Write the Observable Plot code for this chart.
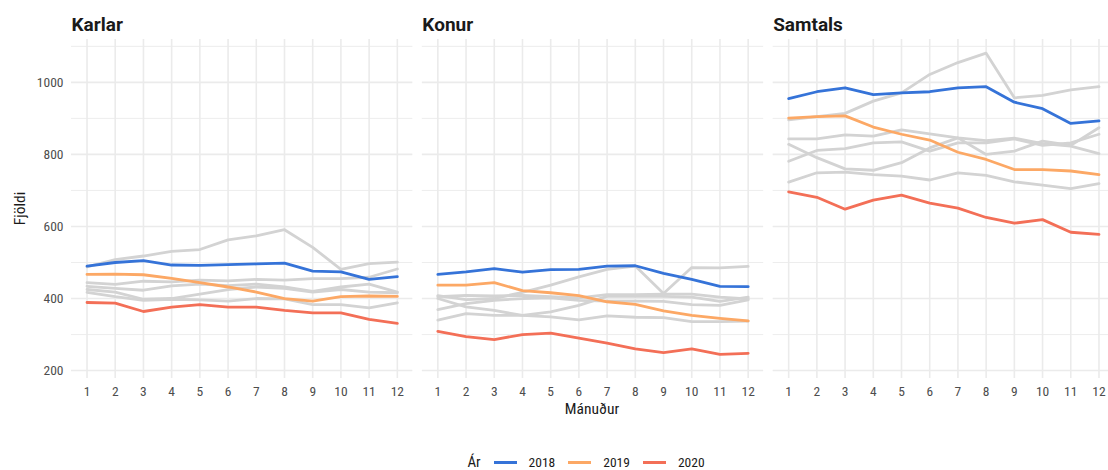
<!DOCTYPE html>
<html>
<head>
<meta charset="utf-8">
<script src="https://cdn.jsdelivr.net/npm/d3@7"></script>
<script src="https://cdn.jsdelivr.net/npm/@observablehq/plot@0.6"></script>
<style>
  html, body { margin: 0; padding: 0; background: #fff; overflow: hidden; }
  body { width: 1108px; height: 470px; position: relative;
         font-family: "Roboto Condensed", "Liberation Sans Narrow", "DejaVu Sans Condensed", Roboto, sans-serif; }
  #chart { position: absolute; left: 0; top: 0; width: 1114px; }
  #chart svg { max-width: none !important; }
  #legend { position: absolute; top: 448px; left: 71px; width: 1043px; height: 28px;
            display: flex; justify-content: center; align-items: center; color: #1a1a1a; }
  #legend .title { font-size: 15px; margin-right: 13px; }
  #legend .sw { display: inline-block; width: 23px; height: 3px; margin-right: 12px; }
  #legend .lab { font-size: 13.5px; margin-right: 13px; }
</style>
</head>
<body>
<div id="chart"></div>
<div id="legend"></div>
<script>
// ---------- data ----------
const months = [1, 2, 3, 4, 5, 6, 7, 8, 9, 10, 11, 12];
const panels = ["Karlar", "Konur", "Samtals"];
const greyYears = ["2013", "2014", "2015", "2016", "2017"];
const highlightYears = ["2018", "2019", "2020"];
const highlightColors = ["#3573d8", "#fca865", "#f36f57"];
const yTicks = [200, 400, 600, 800, 1000];
const yMinor = [300, 500, 700, 900, 1100];

// Karlar (men) – one list per year, months 1..12
const karlarGrey = [
  [488, 508, 518, 531, 536, 563, 574, 591, 542, 481, 497, 501],
  [444, 439, 448, 446, 451, 449, 453, 451, 455, 455, 459, 482],
  [434, 428, 423, 435, 440, 436, 440, 432, 420, 432, 440, 418],
  [425, 418, 398, 400, 412, 425, 432, 428, 418, 425, 418, 416],
  [417, 405, 395, 398, 396, 393, 400, 399, 383, 383, 374, 388]
];
const karlar2018 = [490, 500, 505, 493, 492, 494, 496, 498, 476, 474, 453, 461];
const karlar2019 = [467, 468, 466, 456, 444, 432, 418, 400, 393, 405, 407, 406];
const karlar2020 = [389, 387, 364, 376, 383, 376, 376, 367, 360, 360, 342, 331];

// Konur (women)
const konurGrey = [
  [408, 397, 400, 417, 437, 460, 481, 490, 414, 486, 485, 489],
  [405, 409, 407, 409, 405, 402, 411, 411, 412, 412, 404, 399],
  [400, 377, 367, 353, 363, 381, 406, 406, 406, 404, 392, 404],
  [369, 386, 395, 400, 402, 395, 393, 393, 392, 383, 381, 396],
  [340, 358, 353, 353, 349, 341, 352, 348, 347, 336, 336, 337]
];
const konur2018 = [467, 474, 483, 473, 480, 481, 490, 491, 470, 453, 434, 433];
const konur2019 = [437, 437, 444, 422, 416, 408, 391, 384, 366, 353, 345, 338];
const konur2020 = [309, 294, 286, 300, 304, 290, 276, 260, 250, 260, 245, 248];

// Samtals (total)
const samtalsGrey = [
  [896, 905, 914, 948, 971, 1022, 1055, 1081, 957, 964, 979, 988],
  [843, 843, 854, 851, 868, 857, 846, 838, 845, 830, 823, 802],
  [828, 791, 760, 756, 777, 818, 846, 800, 809, 837, 825, 874],
  [781, 811, 816, 832, 835, 809, 832, 832, 843, 825, 832, 856],
  [723, 749, 751, 744, 740, 729, 749, 742, 724, 715, 705, 719]
];
const samtals2018 = [955, 974, 985, 966, 971, 974, 985, 988, 945, 927, 886, 893];
const samtals2019 = [901, 905, 907, 876, 856, 840, 806, 786, 758, 758, 754, 744];
const samtals2020 = [696, 681, 648, 673, 687, 665, 651, 625, 609, 619, 584, 578];

// ---------- build tables ----------
const greyRows = [];
const hiRows = [];
const greyByPanel = [karlarGrey, konurGrey, samtalsGrey];
const hiByPanel = [
  [karlar2018, karlar2019, karlar2020],
  [konur2018, konur2019, konur2020],
  [samtals2018, samtals2019, samtals2020]
];
panels.forEach((p, pi) => {
  greyByPanel[pi].forEach((vals, yi) => {
    vals.forEach((v, mi) => greyRows.push({panel: p, year: greyYears[yi], month: months[mi], value: v}));
  });
  hiByPanel[pi].forEach((vals, yi) => {
    vals.forEach((v, mi) => hiRows.push({panel: p, year: highlightYears[yi], month: months[mi], value: v}));
  });
});

const font = '"Roboto Condensed", "Liberation Sans Narrow", "DejaVu Sans Condensed", Roboto, sans-serif';

const chart = Plot.plot({
  width: 1114,
  height: 448,
  marginLeft: 71,
  marginRight: 0,
  marginTop: 39,
  marginBottom: 70,
  style: {fontFamily: font, background: "#fff", maxWidth: "none"},
  fx: {domain: panels, paddingInner: 0.027, paddingOuter: 0, round: false, axis: null, label: null},
  x: {domain: [0.45, 12.55], label: null},
  y: {domain: [178, 1119], label: null},
  color: {domain: highlightYears, range: highlightColors},
  marks: [
    Plot.gridY(yMinor, {stroke: "#ebebeb", strokeOpacity: 1, strokeWidth: 0.9}),
    Plot.gridY(yTicks, {stroke: "#ebebeb", strokeOpacity: 1, strokeWidth: 1.6}),
    Plot.gridX(months, {stroke: "#ebebeb", strokeOpacity: 1, strokeWidth: 1.6}),
    Plot.axisX(months, {tickSize: 0, tickPadding: 8, fill: "#4d4d4d", fontSize: 13.5, tickFormat: d => String(d), label: null}),
    Plot.axisY(yTicks, {tickSize: 0, tickPadding: 8, fill: "#4d4d4d", fontSize: 13.5, tickFormat: d => String(d), label: null}),
    Plot.line(greyRows, {x: "month", y: "value", z: "year", fx: "panel", stroke: "#d3d3d3", strokeWidth: 2.8}),
    Plot.line(hiRows, {x: "month", y: "value", z: "year", fx: "panel", stroke: "year", strokeWidth: 2.8}),
    Plot.text(panels, {fx: d => d, text: d => d, frameAnchor: "top-left", textAnchor: "start",
      lineAnchor: "bottom", dy: -9, fontSize: 19, fontWeight: "bold", fill: "#1a1a1a",
      fontFamily: "Roboto, sans-serif"})
  ]
});
chart.style.maxWidth = "none";
chart.style.width = "1114px";
chart.style.height = "448px";

// axis titles as SVG text
const svg = d3.select(chart);
svg.append("text")
  .attr("transform", "translate(21,208.5) rotate(-90)")
  .attr("text-anchor", "middle")
  .attr("dominant-baseline", "middle")
  .attr("font-size", 15.5)
  .attr("fill", "#1a1a1a")
  .attr("font-family", font)
  .text("Fjöldi");
svg.append("text")
  .attr("x", 592)
  .attr("y", 410)
  .attr("text-anchor", "middle")
  .attr("dominant-baseline", "middle")
  .attr("font-size", 15.5)
  .attr("fill", "#1a1a1a")
  .attr("font-family", font)
  .text("Mánuður");

document.getElementById("chart").appendChild(chart);

// legend
const legend = document.getElementById("legend");
const t = document.createElement("span");
t.className = "title";
t.textContent = "Ár";
legend.appendChild(t);
highlightYears.forEach((y, i) => {
  const sw = document.createElement("span");
  sw.className = "sw";
  sw.style.background = highlightColors[i];
  legend.appendChild(sw);
  const lab = document.createElement("span");
  lab.className = "lab";
  lab.textContent = y;
  legend.appendChild(lab);
});
</script>
</body>
</html>
